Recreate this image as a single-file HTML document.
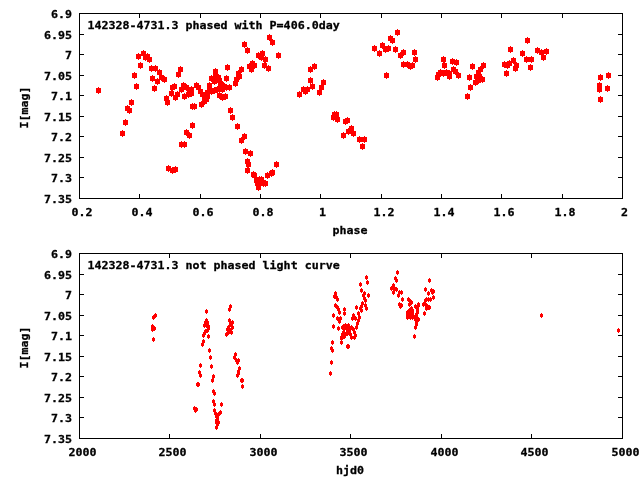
<!DOCTYPE html>
<html lang="en"><head><meta charset="utf-8"><title>142328-4731.3 light curve</title>
<style>
html,body{margin:0;padding:0;background:#fff;}
body{width:640px;height:480px;overflow:hidden;}
svg{display:block;}
text{font-family:"DejaVu Sans Mono","Liberation Mono",monospace;font-weight:bold;font-size:11.65px;fill:#000;stroke:#000;stroke-width:0.3px;}
</style></head><body>
<svg width="640" height="480" viewBox="0 0 640 480">
<rect width="640" height="480" fill="#fff"/>
<path d="M79 13h544v186h-544zM80 14v184h542v-184zM80 34h4v1h-4zM618 34h4v1h-4zM80 54h4v1h-4zM618 54h4v1h-4zM80 75h4v1h-4zM618 75h4v1h-4zM80 95h4v1h-4zM618 95h4v1h-4zM80 116h4v1h-4zM618 116h4v1h-4zM80 136h4v1h-4zM618 136h4v1h-4zM80 157h4v1h-4zM618 157h4v1h-4zM80 177h4v1h-4zM618 177h4v1h-4zM139 14v4h1v-4zM139 194v4h1v-4zM200 14v4h1v-4zM200 194v4h1v-4zM260 14v4h1v-4zM260 194v4h1v-4zM320 14v4h1v-4zM320 194v4h1v-4zM381 14v4h1v-4zM381 194v4h1v-4zM441 14v4h1v-4zM441 194v4h1v-4zM501 14v4h1v-4zM501 194v4h1v-4zM562 14v4h1v-4zM562 194v4h1v-4z" fill="#000" fill-rule="evenodd" shape-rendering="crispEdges"/>
<text transform="translate(72 18) scale(1 0.93)" text-anchor="end">6.9</text>
<text transform="translate(72 39) scale(1 0.93)" text-anchor="end">6.95</text>
<text transform="translate(72 59) scale(1 0.93)" text-anchor="end">7</text>
<text transform="translate(72 80) scale(1 0.93)" text-anchor="end">7.05</text>
<text transform="translate(72 100) scale(1 0.93)" text-anchor="end">7.1</text>
<text transform="translate(72 121) scale(1 0.93)" text-anchor="end">7.15</text>
<text transform="translate(72 141) scale(1 0.93)" text-anchor="end">7.2</text>
<text transform="translate(72 162) scale(1 0.93)" text-anchor="end">7.25</text>
<text transform="translate(72 182) scale(1 0.93)" text-anchor="end">7.3</text>
<text transform="translate(72 203) scale(1 0.93)" text-anchor="end">7.35</text>
<text transform="translate(82 216) scale(1 0.93)" text-anchor="middle">0.2</text>
<text transform="translate(142 216) scale(1 0.93)" text-anchor="middle">0.4</text>
<text transform="translate(203 216) scale(1 0.93)" text-anchor="middle">0.6</text>
<text transform="translate(263 216) scale(1 0.93)" text-anchor="middle">0.8</text>
<text transform="translate(322.5 216) scale(1 0.93)" text-anchor="middle">1</text>
<text transform="translate(384 216) scale(1 0.93)" text-anchor="middle">1.2</text>
<text transform="translate(444 216) scale(1 0.93)" text-anchor="middle">1.4</text>
<text transform="translate(504 216) scale(1 0.93)" text-anchor="middle">1.6</text>
<text transform="translate(565 216) scale(1 0.93)" text-anchor="middle">1.8</text>
<text transform="translate(624.5 216) scale(1 0.93)" text-anchor="middle">2</text>
<text transform="translate(87.5 29) scale(1 0.93)">142328-4731.3 phased with P=406.0day</text>
<text transform="translate(350 234) scale(1 0.93)" text-anchor="middle">phase</text>
<text transform="translate(27.5 107.5) rotate(-90) scale(1 0.93)" text-anchor="middle">I[mag]</text>
<path d="M136 54h5v5h-5zM138 53h1v7h-1zM141 51h5v5h-5zM143 50h1v7h-1zM145 54h5v5h-5zM147 53h1v7h-1zM143 55h5v5h-5zM145 54h1v7h-1zM147 57h5v5h-5zM149 56h1v7h-1zM138 63h5v5h-5zM140 62h1v7h-1zM149 66h5v5h-5zM151 65h1v7h-1zM153 66h5v5h-5zM155 65h1v7h-1zM132 73h5v5h-5zM134 72h1v7h-1zM150 76h5v5h-5zM152 75h1v7h-1zM134 84h5v5h-5zM136 83h1v7h-1zM155 79h5v5h-5zM157 78h1v7h-1zM157 70h5v5h-5zM159 69h1v7h-1zM96 88h5v5h-5zM98 87h1v7h-1zM152 86h5v5h-5zM154 85h1v7h-1zM129 100h5v5h-5zM131 99h1v7h-1zM125 106h5v5h-5zM127 105h1v7h-1zM127 108h5v5h-5zM129 107h1v7h-1zM123 120h5v5h-5zM125 119h1v7h-1zM120 131h5v5h-5zM122 130h1v7h-1zM159 75h5v5h-5zM161 74h1v7h-1zM162 77h5v5h-5zM164 76h1v7h-1zM178 67h5v5h-5zM180 66h1v7h-1zM176 72h5v5h-5zM178 71h1v7h-1zM172 84h5v5h-5zM174 83h1v7h-1zM170 85h5v5h-5zM172 84h1v7h-1zM169 91h5v5h-5zM171 90h1v7h-1zM175 92h5v5h-5zM177 91h1v7h-1zM173 95h5v5h-5zM175 94h1v7h-1zM164 96h5v5h-5zM166 95h1v7h-1zM165 100h5v5h-5zM167 99h1v7h-1zM181 83h5v5h-5zM183 82h1v7h-1zM179 87h5v5h-5zM181 86h1v7h-1zM184 85h5v5h-5zM186 84h1v7h-1zM187 88h5v5h-5zM189 87h1v7h-1zM182 94h5v5h-5zM184 93h1v7h-1zM186 92h5v5h-5zM188 91h1v7h-1zM194 83h5v5h-5zM196 82h1v7h-1zM190 104h5v5h-5zM192 103h1v7h-1zM192 104h5v5h-5zM194 103h1v7h-1zM225 65h5v5h-5zM227 64h1v7h-1zM224 76h5v5h-5zM226 75h1v7h-1zM239 67h5v5h-5zM241 66h1v7h-1zM236 71h5v5h-5zM238 70h1v7h-1zM237 74h5v5h-5zM239 73h1v7h-1zM234 77h5v5h-5zM236 76h1v7h-1zM233 81h5v5h-5zM235 80h1v7h-1zM213 69h5v5h-5zM215 68h1v7h-1zM209 76h5v5h-5zM211 75h1v7h-1zM216 75h5v5h-5zM218 74h1v7h-1zM213 73h5v5h-5zM215 72h1v7h-1zM207 83h5v5h-5zM209 82h1v7h-1zM218 81h5v5h-5zM220 80h1v7h-1zM222 84h5v5h-5zM224 83h1v7h-1zM227 85h5v5h-5zM229 84h1v7h-1zM224 85h5v5h-5zM226 84h1v7h-1zM217 93h5v5h-5zM219 92h1v7h-1zM223 94h5v5h-5zM225 93h1v7h-1zM220 95h5v5h-5zM222 94h1v7h-1zM189 87h5v5h-5zM191 86h1v7h-1zM189 91h5v5h-5zM191 90h1v7h-1zM267 35h5v5h-5zM269 34h1v7h-1zM270 40h5v5h-5zM272 39h1v7h-1zM242 42h5v5h-5zM244 41h1v7h-1zM245 48h5v5h-5zM247 47h1v7h-1zM276 53h5v5h-5zM278 52h1v7h-1zM260 51h5v5h-5zM262 50h1v7h-1zM256 53h5v5h-5zM258 52h1v7h-1zM259 55h5v5h-5zM261 54h1v7h-1zM263 57h5v5h-5zM265 56h1v7h-1zM262 63h5v5h-5zM264 62h1v7h-1zM266 66h5v5h-5zM268 65h1v7h-1zM250 61h5v5h-5zM252 60h1v7h-1zM247 64h5v5h-5zM249 63h1v7h-1zM252 63h5v5h-5zM254 62h1v7h-1zM249 67h5v5h-5zM251 66h1v7h-1zM228 108h5v5h-5zM230 107h1v7h-1zM230 115h5v5h-5zM232 114h1v7h-1zM235 124h5v5h-5zM237 123h1v7h-1zM242 134h5v5h-5zM244 133h1v7h-1zM239 138h5v5h-5zM241 137h1v7h-1zM243 149h5v5h-5zM245 148h1v7h-1zM248 151h5v5h-5zM250 150h1v7h-1zM245 159h5v5h-5zM247 158h1v7h-1zM246 162h5v5h-5zM248 161h1v7h-1zM245 168h5v5h-5zM247 167h1v7h-1zM251 172h5v5h-5zM253 171h1v7h-1zM252 173h5v5h-5zM254 172h1v7h-1zM274 162h5v5h-5zM276 161h1v7h-1zM270 170h5v5h-5zM272 169h1v7h-1zM269 171h5v5h-5zM271 170h1v7h-1zM265 173h5v5h-5zM267 172h1v7h-1zM254 178h5v5h-5zM256 177h1v7h-1zM257 177h5v5h-5zM259 176h1v7h-1zM259 177h5v5h-5zM261 176h1v7h-1zM255 181h5v5h-5zM257 180h1v7h-1zM261 181h5v5h-5zM263 180h1v7h-1zM263 181h5v5h-5zM265 180h1v7h-1zM256 185h5v5h-5zM258 184h1v7h-1zM258 181h5v5h-5zM260 180h1v7h-1zM312 64h5v5h-5zM314 63h1v7h-1zM308 67h5v5h-5zM310 66h1v7h-1zM308 78h5v5h-5zM310 77h1v7h-1zM310 84h5v5h-5zM312 83h1v7h-1zM301 87h5v5h-5zM303 86h1v7h-1zM305 87h5v5h-5zM307 86h1v7h-1zM303 89h5v5h-5zM305 88h1v7h-1zM297 92h5v5h-5zM299 91h1v7h-1zM321 80h5v5h-5zM323 79h1v7h-1zM319 85h5v5h-5zM321 84h1v7h-1zM317 90h5v5h-5zM319 89h1v7h-1zM332 112h5v5h-5zM334 111h1v7h-1zM334 112h5v5h-5zM336 111h1v7h-1zM331 115h5v5h-5zM333 114h1v7h-1zM335 117h5v5h-5zM337 116h1v7h-1zM345 118h5v5h-5zM347 117h1v7h-1zM343 119h5v5h-5zM345 118h1v7h-1zM349 126h5v5h-5zM351 125h1v7h-1zM346 129h5v5h-5zM348 128h1v7h-1zM351 131h5v5h-5zM353 130h1v7h-1zM341 133h5v5h-5zM343 132h1v7h-1zM357 137h5v5h-5zM359 136h1v7h-1zM362 137h5v5h-5zM364 136h1v7h-1zM360 144h5v5h-5zM362 143h1v7h-1zM395 30h5v5h-5zM397 29h1v7h-1zM388 36h5v5h-5zM390 35h1v7h-1zM390 38h5v5h-5zM392 37h1v7h-1zM372 46h5v5h-5zM374 45h1v7h-1zM377 51h5v5h-5zM379 50h1v7h-1zM380 43h5v5h-5zM382 42h1v7h-1zM383 47h5v5h-5zM385 46h1v7h-1zM386 46h5v5h-5zM388 45h1v7h-1zM393 47h5v5h-5zM395 46h1v7h-1zM401 50h5v5h-5zM403 49h1v7h-1zM398 53h5v5h-5zM400 52h1v7h-1zM412 50h5v5h-5zM414 49h1v7h-1zM413 57h5v5h-5zM415 56h1v7h-1zM401 62h5v5h-5zM403 61h1v7h-1zM405 62h5v5h-5zM407 61h1v7h-1zM408 64h5v5h-5zM410 63h1v7h-1zM410 63h5v5h-5zM412 62h1v7h-1zM441 57h5v5h-5zM443 56h1v7h-1zM442 63h5v5h-5zM444 62h1v7h-1zM450 59h5v5h-5zM452 58h1v7h-1zM454 60h5v5h-5zM456 59h1v7h-1zM435 75h5v5h-5zM437 74h1v7h-1zM438 70h5v5h-5zM440 69h1v7h-1zM436 72h5v5h-5zM438 71h1v7h-1zM444 70h5v5h-5zM446 69h1v7h-1zM441 71h5v5h-5zM443 70h1v7h-1zM447 71h5v5h-5zM449 70h1v7h-1zM447 74h5v5h-5zM449 73h1v7h-1zM451 67h5v5h-5zM453 66h1v7h-1zM453 69h5v5h-5zM455 68h1v7h-1zM456 73h5v5h-5zM458 72h1v7h-1zM470 64h5v5h-5zM472 63h1v7h-1zM467 75h5v5h-5zM469 74h1v7h-1zM468 85h5v5h-5zM470 84h1v7h-1zM465 94h5v5h-5zM467 93h1v7h-1zM481 63h5v5h-5zM483 62h1v7h-1zM478 67h5v5h-5zM480 66h1v7h-1zM476 70h5v5h-5zM478 69h1v7h-1zM474 74h5v5h-5zM476 73h1v7h-1zM477 74h5v5h-5zM479 73h1v7h-1zM480 77h5v5h-5zM482 76h1v7h-1zM473 80h5v5h-5zM475 79h1v7h-1zM476 78h5v5h-5zM478 77h1v7h-1zM525 38h5v5h-5zM527 37h1v7h-1zM508 47h5v5h-5zM510 46h1v7h-1zM520 51h5v5h-5zM522 50h1v7h-1zM535 48h5v5h-5zM537 47h1v7h-1zM539 50h5v5h-5zM541 49h1v7h-1zM544 49h5v5h-5zM546 48h1v7h-1zM541 55h5v5h-5zM543 54h1v7h-1zM524 57h5v5h-5zM526 56h1v7h-1zM529 57h5v5h-5zM531 56h1v7h-1zM528 65h5v5h-5zM530 64h1v7h-1zM511 58h5v5h-5zM513 57h1v7h-1zM507 61h5v5h-5zM509 60h1v7h-1zM502 62h5v5h-5zM504 61h1v7h-1zM505 63h5v5h-5zM507 62h1v7h-1zM514 63h5v5h-5zM516 62h1v7h-1zM513 66h5v5h-5zM515 65h1v7h-1zM504 71h5v5h-5zM506 70h1v7h-1zM598 75h5v5h-5zM600 74h1v7h-1zM606 73h5v5h-5zM608 72h1v7h-1zM597 83h5v5h-5zM599 82h1v7h-1zM597 87h5v5h-5zM599 86h1v7h-1zM605 86h5v5h-5zM607 85h1v7h-1zM598 97h5v5h-5zM600 96h1v7h-1zM190 123h5v5h-5zM192 122h1v7h-1zM184 130h5v5h-5zM186 129h1v7h-1zM187 133h5v5h-5zM189 132h1v7h-1zM179 142h5v5h-5zM181 141h1v7h-1zM182 142h5v5h-5zM184 141h1v7h-1zM166 166h5v5h-5zM168 165h1v7h-1zM170 168h5v5h-5zM172 167h1v7h-1zM173 167h5v5h-5zM175 166h1v7h-1zM384 73h5v5h-5zM386 72h1v7h-1zM212 79h5v5h-5zM214 78h1v7h-1zM217 78h5v5h-5zM219 77h1v7h-1zM219 82h5v5h-5zM221 81h1v7h-1zM218 85h5v5h-5zM220 84h1v7h-1zM196 85h5v5h-5zM198 84h1v7h-1zM198 89h5v5h-5zM200 88h1v7h-1zM200 92h5v5h-5zM202 91h1v7h-1zM202 95h5v5h-5zM204 94h1v7h-1zM205 90h5v5h-5zM207 89h1v7h-1zM205 94h5v5h-5zM207 93h1v7h-1zM261 180h5v5h-5zM263 179h1v7h-1zM207 86h5v5h-5zM209 85h1v7h-1zM220 87h5v5h-5zM222 86h1v7h-1zM204 97h5v5h-5zM206 96h1v7h-1zM202 99h5v5h-5zM204 98h1v7h-1zM199 102h5v5h-5zM201 101h1v7h-1zM209 89h5v5h-5zM211 88h1v7h-1zM212 88h5v5h-5zM214 87h1v7h-1zM215 87h5v5h-5zM217 86h1v7h-1z" fill="#f00" shape-rendering="crispEdges"/>
<path d="M79 253h544v186h-544zM80 254v184h542v-184zM80 274h4v1h-4zM618 274h4v1h-4zM80 294h4v1h-4zM618 294h4v1h-4zM80 315h4v1h-4zM618 315h4v1h-4zM80 335h4v1h-4zM618 335h4v1h-4zM80 356h4v1h-4zM618 356h4v1h-4zM80 376h4v1h-4zM618 376h4v1h-4zM80 397h4v1h-4zM618 397h4v1h-4zM80 417h4v1h-4zM618 417h4v1h-4zM169 254v4h1v-4zM169 434v4h1v-4zM260 254v4h1v-4zM260 434v4h1v-4zM350 254v4h1v-4zM350 434v4h1v-4zM441 254v4h1v-4zM441 434v4h1v-4zM531 254v4h1v-4zM531 434v4h1v-4z" fill="#000" fill-rule="evenodd" shape-rendering="crispEdges"/>
<text transform="translate(72 258) scale(1 0.93)" text-anchor="end">6.9</text>
<text transform="translate(72 279) scale(1 0.93)" text-anchor="end">6.95</text>
<text transform="translate(72 299) scale(1 0.93)" text-anchor="end">7</text>
<text transform="translate(72 320) scale(1 0.93)" text-anchor="end">7.05</text>
<text transform="translate(72 340) scale(1 0.93)" text-anchor="end">7.1</text>
<text transform="translate(72 361) scale(1 0.93)" text-anchor="end">7.15</text>
<text transform="translate(72 381) scale(1 0.93)" text-anchor="end">7.2</text>
<text transform="translate(72 402) scale(1 0.93)" text-anchor="end">7.25</text>
<text transform="translate(72 422) scale(1 0.93)" text-anchor="end">7.3</text>
<text transform="translate(72 443) scale(1 0.93)" text-anchor="end">7.35</text>
<text transform="translate(82.5 456) scale(1 0.93)" text-anchor="middle">2000</text>
<text transform="translate(172.5 456) scale(1 0.93)" text-anchor="middle">2500</text>
<text transform="translate(263.5 456) scale(1 0.93)" text-anchor="middle">3000</text>
<text transform="translate(353.5 456) scale(1 0.93)" text-anchor="middle">3500</text>
<text transform="translate(444.5 456) scale(1 0.93)" text-anchor="middle">4000</text>
<text transform="translate(534.5 456) scale(1 0.93)" text-anchor="middle">4500</text>
<text transform="translate(625.5 456) scale(1 0.93)" text-anchor="middle">5000</text>
<text transform="translate(87.5 269) scale(1 0.93)">142328-4731.3 not phased light curve</text>
<text transform="translate(350 474) scale(1 0.93)" text-anchor="middle">hjd0</text>
<text transform="translate(27.5 347.5) rotate(-90) scale(1 0.93)" text-anchor="middle">I[mag]</text>
<path d="M154 314h3v3h-3zM155 313h1v5h-1zM152 316h3v3h-3zM153 315h1v5h-1zM151 325h3v3h-3zM152 324h1v5h-1zM151 328h3v3h-3zM152 327h1v5h-1zM153 327h3v3h-3zM154 326h1v5h-1zM152 338h3v3h-3zM153 337h1v5h-1zM205 310h3v3h-3zM206 309h1v5h-1zM205 319h3v3h-3zM206 318h1v5h-1zM204 321h3v3h-3zM205 320h1v5h-1zM206 321h3v3h-3zM207 320h1v5h-1zM203 324h3v3h-3zM204 323h1v5h-1zM205 324h3v3h-3zM206 323h1v5h-1zM207 325h3v3h-3zM208 324h1v5h-1zM207 327h3v3h-3zM208 326h1v5h-1zM206 329h3v3h-3zM207 328h1v5h-1zM204 330h3v3h-3zM205 329h1v5h-1zM203 332h3v3h-3zM204 331h1v5h-1zM202 334h3v3h-3zM203 333h1v5h-1zM207 335h3v3h-3zM208 334h1v5h-1zM202 340h3v3h-3zM203 339h1v5h-1zM201 343h3v3h-3zM202 342h1v5h-1zM208 349h3v3h-3zM209 348h1v5h-1zM209 356h3v3h-3zM210 355h1v5h-1zM210 365h3v3h-3zM211 364h1v5h-1zM199 364h3v3h-3zM200 363h1v5h-1zM198 371h3v3h-3zM199 370h1v5h-1zM199 374h3v3h-3zM200 373h1v5h-1zM212 375h3v3h-3zM213 374h1v5h-1zM211 379h3v3h-3zM212 378h1v5h-1zM196 383h3v3h-3zM197 382h1v5h-1zM197 383h3v3h-3zM198 382h1v5h-1zM212 390h3v3h-3zM213 389h1v5h-1zM213 392h3v3h-3zM214 391h1v5h-1zM212 400h3v3h-3zM213 399h1v5h-1zM213 403h3v3h-3zM214 402h1v5h-1zM220 403h3v3h-3zM221 402h1v5h-1zM213 409h3v3h-3zM214 408h1v5h-1zM214 412h3v3h-3zM215 411h1v5h-1zM219 411h3v3h-3zM220 410h1v5h-1zM217 413h3v3h-3zM218 412h1v5h-1zM215 415h3v3h-3zM216 414h1v5h-1zM216 417h3v3h-3zM217 416h1v5h-1zM215 419h3v3h-3zM216 418h1v5h-1zM215 421h3v3h-3zM216 420h1v5h-1zM217 421h3v3h-3zM218 420h1v5h-1zM216 423h3v3h-3zM217 422h1v5h-1zM215 426h3v3h-3zM216 425h1v5h-1zM193 407h3v3h-3zM194 406h1v5h-1zM195 408h3v3h-3zM196 407h1v5h-1zM194 409h3v3h-3zM195 408h1v5h-1zM229 305h3v3h-3zM230 304h1v5h-1zM228 308h3v3h-3zM229 307h1v5h-1zM228 319h3v3h-3zM229 318h1v5h-1zM231 321h3v3h-3zM232 320h1v5h-1zM229 323h3v3h-3zM230 322h1v5h-1zM231 326h3v3h-3zM232 325h1v5h-1zM227 326h3v3h-3zM228 325h1v5h-1zM226 328h3v3h-3zM227 327h1v5h-1zM229 329h3v3h-3zM230 328h1v5h-1zM230 331h3v3h-3zM231 330h1v5h-1zM225 333h3v3h-3zM226 332h1v5h-1zM227 331h3v3h-3zM228 330h1v5h-1zM234 353h3v3h-3zM235 352h1v5h-1zM233 356h3v3h-3zM234 355h1v5h-1zM235 359h3v3h-3zM236 358h1v5h-1zM237 359h3v3h-3zM238 358h1v5h-1zM236 361h3v3h-3zM237 360h1v5h-1zM238 367h3v3h-3zM239 366h1v5h-1zM237 370h3v3h-3zM238 369h1v5h-1zM237 372h3v3h-3zM238 371h1v5h-1zM236 374h3v3h-3zM237 373h1v5h-1zM240 379h3v3h-3zM241 378h1v5h-1zM241 379h3v3h-3zM242 378h1v5h-1zM241 385h3v3h-3zM242 384h1v5h-1zM365 276h3v3h-3zM366 275h1v5h-1zM366 281h3v3h-3zM367 280h1v5h-1zM359 283h3v3h-3zM360 282h1v5h-1zM360 289h3v3h-3zM361 288h1v5h-1zM363 292h3v3h-3zM364 291h1v5h-1zM367 294h3v3h-3zM368 293h1v5h-1zM362 294h3v3h-3zM363 293h1v5h-1zM363 297h3v3h-3zM364 296h1v5h-1zM364 299h3v3h-3zM365 298h1v5h-1zM361 302h3v3h-3zM362 301h1v5h-1zM364 304h3v3h-3zM365 303h1v5h-1zM365 307h3v3h-3zM366 306h1v5h-1zM360 305h3v3h-3zM361 304h1v5h-1zM359 307h3v3h-3zM360 306h1v5h-1zM360 309h3v3h-3zM361 308h1v5h-1zM355 306h3v3h-3zM356 305h1v5h-1zM357 312h3v3h-3zM358 311h1v5h-1zM334 292h3v3h-3zM335 291h1v5h-1zM333 295h3v3h-3zM334 294h1v5h-1zM335 296h3v3h-3zM336 295h1v5h-1zM336 298h3v3h-3zM337 297h1v5h-1zM334 304h3v3h-3zM335 303h1v5h-1zM336 306h3v3h-3zM337 305h1v5h-1zM337 308h3v3h-3zM338 307h1v5h-1zM338 311h3v3h-3zM339 310h1v5h-1zM343 308h3v3h-3zM344 307h1v5h-1zM343 312h3v3h-3zM344 311h1v5h-1zM332 314h3v3h-3zM333 313h1v5h-1zM352 314h3v3h-3zM353 313h1v5h-1zM336 317h3v3h-3zM337 316h1v5h-1zM339 317h3v3h-3zM340 316h1v5h-1zM338 320h3v3h-3zM339 319h1v5h-1zM332 325h3v3h-3zM333 324h1v5h-1zM337 327h3v3h-3zM338 326h1v5h-1zM351 317h3v3h-3zM352 316h1v5h-1zM354 317h3v3h-3zM355 316h1v5h-1zM358 316h3v3h-3zM359 315h1v5h-1zM357 319h3v3h-3zM358 318h1v5h-1zM356 322h3v3h-3zM357 321h1v5h-1zM355 326h3v3h-3zM356 325h1v5h-1zM342 325h3v3h-3zM343 324h1v5h-1zM344 324h3v3h-3zM345 323h1v5h-1zM347 324h3v3h-3zM348 323h1v5h-1zM350 326h3v3h-3zM351 325h1v5h-1zM352 328h3v3h-3zM353 327h1v5h-1zM346 328h3v3h-3zM347 327h1v5h-1zM342 331h3v3h-3zM343 330h1v5h-1zM341 333h3v3h-3zM342 332h1v5h-1zM346 332h3v3h-3zM347 331h1v5h-1zM340 336h3v3h-3zM341 335h1v5h-1zM343 335h3v3h-3zM344 334h1v5h-1zM349 333h3v3h-3zM350 332h1v5h-1zM350 336h3v3h-3zM351 335h1v5h-1zM354 334h3v3h-3zM355 333h1v5h-1zM353 336h3v3h-3zM354 335h1v5h-1zM340 341h3v3h-3zM341 340h1v5h-1zM331 341h3v3h-3zM332 340h1v5h-1zM346 345h3v3h-3zM347 344h1v5h-1zM347 345h3v3h-3zM348 344h1v5h-1zM330 347h3v3h-3zM331 346h1v5h-1zM331 349h3v3h-3zM332 348h1v5h-1zM330 361h3v3h-3zM331 360h1v5h-1zM329 372h3v3h-3zM330 371h1v5h-1zM396 271h3v3h-3zM397 270h1v5h-1zM394 277h3v3h-3zM395 276h1v5h-1zM395 279h3v3h-3zM396 278h1v5h-1zM392 284h3v3h-3zM393 283h1v5h-1zM390 287h3v3h-3zM391 286h1v5h-1zM393 287h3v3h-3zM394 286h1v5h-1zM395 288h3v3h-3zM396 287h1v5h-1zM392 291h3v3h-3zM393 290h1v5h-1zM398 291h3v3h-3zM399 290h1v5h-1zM400 291h3v3h-3zM401 290h1v5h-1zM397 294h3v3h-3zM398 293h1v5h-1zM401 298h3v3h-3zM402 297h1v5h-1zM407 298h3v3h-3zM408 297h1v5h-1zM409 300h3v3h-3zM410 299h1v5h-1zM410 301h3v3h-3zM411 300h1v5h-1zM408 303h3v3h-3zM409 302h1v5h-1zM398 303h3v3h-3zM399 302h1v5h-1zM400 304h3v3h-3zM401 303h1v5h-1zM399 305h3v3h-3zM400 304h1v5h-1zM414 305h3v3h-3zM415 304h1v5h-1zM417 304h3v3h-3zM418 303h1v5h-1zM416 308h3v3h-3zM417 307h1v5h-1zM416 311h3v3h-3zM417 310h1v5h-1zM415 313h3v3h-3zM416 312h1v5h-1zM415 316h3v3h-3zM416 315h1v5h-1zM417 318h3v3h-3zM418 317h1v5h-1zM415 320h3v3h-3zM416 319h1v5h-1zM414 326h3v3h-3zM415 325h1v5h-1zM413 335h3v3h-3zM414 334h1v5h-1zM428 279h3v3h-3zM429 278h1v5h-1zM424 288h3v3h-3zM425 287h1v5h-1zM427 292h3v3h-3zM428 291h1v5h-1zM430 289h3v3h-3zM431 288h1v5h-1zM432 290h3v3h-3zM433 289h1v5h-1zM431 291h3v3h-3zM432 290h1v5h-1zM432 296h3v3h-3zM433 295h1v5h-1zM429 298h3v3h-3zM430 297h1v5h-1zM427 298h3v3h-3zM428 297h1v5h-1zM424 299h3v3h-3zM425 298h1v5h-1zM425 298h3v3h-3zM426 297h1v5h-1zM423 302h3v3h-3zM424 301h1v5h-1zM417 303h3v3h-3zM418 302h1v5h-1zM422 303h3v3h-3zM423 302h1v5h-1zM425 304h3v3h-3zM426 303h1v5h-1zM427 306h3v3h-3zM428 305h1v5h-1zM425 307h3v3h-3zM426 306h1v5h-1zM428 306h3v3h-3zM429 305h1v5h-1zM423 312h3v3h-3zM424 311h1v5h-1zM415 323h3v3h-3zM416 322h1v5h-1zM343 327h3v3h-3zM344 326h1v5h-1zM345 327h3v3h-3zM346 326h1v5h-1zM348 327h3v3h-3zM349 326h1v5h-1zM346 330h3v3h-3zM347 329h1v5h-1zM348 330h3v3h-3zM349 329h1v5h-1zM344 333h3v3h-3zM345 332h1v5h-1zM342 335h3v3h-3zM343 334h1v5h-1zM340 337h3v3h-3zM341 336h1v5h-1zM341 326h3v3h-3zM342 325h1v5h-1zM353 331h3v3h-3zM354 330h1v5h-1zM410 307h3v3h-3zM411 306h1v5h-1zM408 309h3v3h-3zM409 308h1v5h-1zM411 309h3v3h-3zM412 308h1v5h-1zM406 311h3v3h-3zM407 310h1v5h-1zM409 311h3v3h-3zM410 310h1v5h-1zM411 312h3v3h-3zM412 311h1v5h-1zM406 313h3v3h-3zM407 312h1v5h-1zM408 314h3v3h-3zM409 313h1v5h-1zM411 314h3v3h-3zM412 313h1v5h-1zM406 316h3v3h-3zM407 315h1v5h-1zM409 316h3v3h-3zM410 315h1v5h-1zM411 316h3v3h-3zM412 315h1v5h-1zM414 315h3v3h-3zM415 314h1v5h-1zM414 318h3v3h-3zM415 317h1v5h-1zM540 314h3v3h-3zM541 313h1v5h-1zM617 329h3v3h-3zM618 328h1v5h-1z" fill="#f00" shape-rendering="crispEdges"/>
</svg>
</body></html>
